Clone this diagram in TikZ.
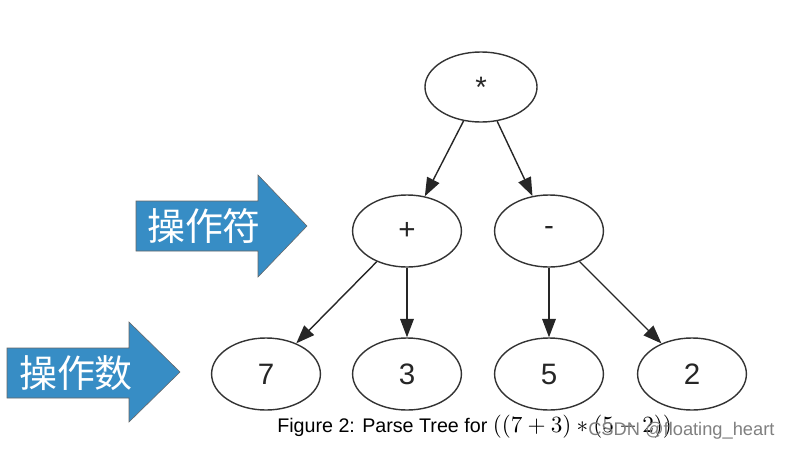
\documentclass[tikz,border=0pt]{standalone}
\usepackage{graphicx}
\usepackage{fontspec}
\setsansfont{Liberation Sans}
\newfontfamily\cjk{Noto Sans CJK SC}
\usetikzlibrary{shapes.geometric,arrows.meta}
\definecolor{arrowblue}{RGB}{55,141,197}
\tikzset{
  tnode/.style={ellipse,draw=black!80,line width=1pt,minimum width=2.72cm,minimum height=1.8cm,inner sep=0pt,text=black!85,font=\sffamily\fontsize{21}{24}\selectfont},
  edge/.style={draw=black!85,line width=1pt,-{Triangle[length=0.46cm,width=0.34cm]}},
  bigarrow/.style={fill=arrowblue,draw=black!60,line width=0.4pt},
  arrowtext/.style={text=white,font=\cjk\fontsize{27}{30}\selectfont}
}

\begin{document}
\begin{tikzpicture}[x=0.025cm,y=-0.025cm]
  \useasboundingbox (0,0) rectangle (788,449);

  % blue arrows
  \filldraw[bigarrow] (136,201) -- (258,201) -- (258,175) -- (307,226) -- (258,277) -- (258,251) -- (136,251) -- cycle;
  \filldraw[bigarrow] (7,348) -- (129,348) -- (129,322) -- (180,372) -- (129,422) -- (129,398) -- (7,398) -- cycle;
  \node[arrowtext] (opr) at (204,226) {操作符};
  \node[arrowtext] (opd) at (76,373) {操作数};

  % tree
  \node[tnode,minimum width=2.8cm,minimum height=1.75cm] (times) at (481,87) {*};
  \node[tnode] (plus) at (407,231) {+};
  \node[tnode] (minus) at (549,231) {-};
  \node[tnode] (seven) at (266,374) {7};
  \node[tnode] (three) at (407,374) {3};
  \node[tnode] (five) at (549,374) {5};
  \node[tnode] (two) at (692,374) {2};

  \draw[edge] (times) -- (plus);
  \draw[edge] (times) -- (minus);
  \draw[edge] (plus) -- (seven);
  \draw[edge] (plus) -- (three);
  \draw[edge] (minus) -- (five);
  \draw[edge] (minus) -- (two);

  % caption and mark
  \node[anchor=base west,inner sep=0pt,font=\sffamily\fontsize{14}{16}\selectfont] (caption) at (277,432)
    {Figure 2: Parse Tree for \scalebox{1.65}{\normalsize$((7+3)*(5-2))$}};
  \node[anchor=base west,inner sep=0pt,text=black!50,font=\sffamily\fontsize{13}{15}\selectfont] (mark) at (588,435)
    {CSDN @floating\_heart};
\end{tikzpicture}
\end{document}
